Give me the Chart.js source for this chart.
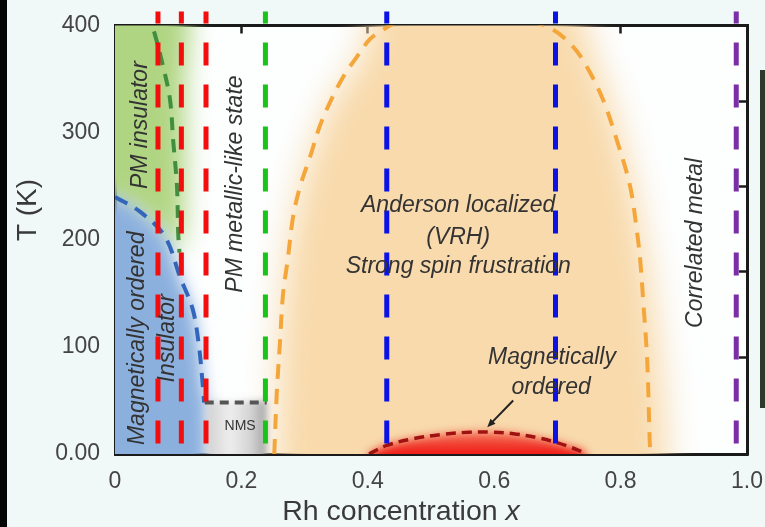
<!DOCTYPE html>
<html>
<head>
<meta charset="utf-8">
<script src="https://cdn.jsdelivr.net/npm/chart.js@4/dist/chart.umd.min.js"></script>
<style>
  html, body { margin: 0; padding: 0; background: #f1f8f8; }
  #wrap { width: 765px; height: 527px; }
</style>
</head>
<body>
<div id="wrap"><canvas id="phase" width="765" height="527"></canvas></div>
<script>
// ---- axes ----
const xTickLabels = ['0', '0.2', '0.4', '0.6', '0.8', '1.0'];
const yTickLabels = ['0.00', '100', '200', '300', '400'];
const rightAxisTicks = [90, 170, 250, 329];

// ---- measured compositions (dashed verticals), Rh concentration x ----
const redSamplesX = [0.068, 0.105, 0.144];
const greenSamplesX = [0.238];
const blueSamplesX = [0.430, 0.697];
const purpleSamplesX = [0.983];
const sampleLineTopT = 413;

// ---- phase boundaries, [x, T (K)] ----
const pmBoundary = [[0.05, 414], [0.06, 398], [0.076, 362], [0.087, 331], [0.092, 293], [0.098, 250], [0.1, 206], [0.102, 188]];
const orderBoundary = [[0, 240], [0.04, 226], [0.079, 203], [0.103, 165], [0.123, 135], [0.133, 100], [0.138, 70], [0.141, 48]];
const nmsBoundary = [[0.142, 48], [0.24, 48]];
const andersonBoundary = [[0.252, 0], [0.256, 57], [0.261, 104], [0.266, 150], [0.273, 180], [0.282, 222], [0.293, 250],
  [0.309, 278], [0.324, 306], [0.34, 328], [0.361, 352], [0.383, 371], [0.403, 387], [0.419, 394], [0.45, 404], [0.55, 412],
  [0.65, 405], [0.693, 396], [0.725, 380], [0.747, 361], [0.772, 331], [0.794, 293], [0.815, 250], [0.826, 207],
  [0.831, 181], [0.836, 141], [0.842, 88], [0.846, 13], [0.847, 0]];
const orderedDome = [[0.402, 0], [0.43, 8], [0.47, 14], [0.52, 18.5], [0.56, 20.3], [0.593, 20.5], [0.63, 19], [0.67, 15],
  [0.697, 11], [0.72, 6.5], [0.742, 1.5]];

// ---- shaded phase regions, [x, T (K)] ----
const pmInsulatorArea = [[-0.05, 236], [-0.05, 450], [0.105, 450], [0.11, 330], [0.11, 240], [0.1, 190], [0.06, 215], [0, 236]];
const orderedInsulatorArea = [[-0.05, -40], [-0.05, 244], [0, 240], [0.04, 226], [0.079, 203], [0.103, 165], [0.123, 135],
  [0.133, 100], [0.14, 60], [0.145, 48], [0.145, -40]];
const nmsArea = [[0.144, -40], [0.144, 50], [0.24, 50], [0.24, -40]];
const andersonArea = [[0.255, -40], [0.26, 100], [0.274, 190], [0.3, 262], [0.34, 326], [0.39, 372], [0.43, 440], [0.70, 440],
  [0.765, 360], [0.81, 275], [0.845, 170], [0.865, 70], [0.875, -40]];
const orderedArea = orderedDome.concat([[0.75, -40], [0.395, -40]]);

// ---- text ----
const phaseLabels = [
  { text: 'PM insulator', x: 0.040, t: 307, vertical: true },
  { text: 'Magnetically ordered', x: 0.035, t: 108, vertical: true },
  { text: 'Insulator', x: 0.084, t: 108, vertical: true },
  { text: 'PM metallic-like state', x: 0.1915, t: 252, vertical: true },
  { text: 'Correlated metal', x: 0.918, t: 197, vertical: true },
  { text: 'Anderson localized', x: 0.543, t: 232 },
  { text: '(VRH)', x: 0.543, t: 202 },
  { text: 'Strong spin frustration', x: 0.543, t: 175 },
  { text: 'Magnetically', x: 0.6915, t: 90 },
  { text: 'ordered', x: 0.69, t: 62 }
];
const nmsLabel = { text: 'NMS', x: 0.198, t: 26 };
const orderedArrow = [[0.63, 50], [0.589, 25]];

const FONT = '"Liberation Sans", Arial, sans-serif';
const pts = arr => arr.map(([x, y]) => ({ x, y }));

// Blur selected filled regions: runs before the filler plugin paints them.
const softFill = {
  id: 'softFill',
  beforeDatasetDraw(chart, args) {
    const ds = chart.data.datasets[args.index];
    if (ds.softness) { chart.ctx.save(); chart.ctx.filter = 'blur(' + ds.softness + 'px)'; }
  },
  afterDatasetDraw(chart, args) {
    const ds = chart.data.datasets[args.index];
    if (ds.softness) chart.ctx.restore();
  }
};
const filler = Chart.registry.getPlugin('filler');
Chart.unregister(filler);
Chart.register(softFill, filler);

function region(data, color, softness) {
  return { data: pts(data), fill: 'shape', backgroundColor: color, borderWidth: 0, pointRadius: 0, tension: 0.3, softness };
}
function dashed(data, color, width, dash) {
  return { data: pts(data), fill: false, borderColor: color, borderWidth: width, borderDash: dash, pointRadius: 0, tension: 0.35 };
}
function sampleLines(xs, color) {
  return xs.map(x => ({
    data: [{ x, y: sampleLineTopT }, { x, y: 0 }], fill: false, borderColor: color, borderWidth: 5,
    borderDash: [23, 19], borderDashOffset: 11, pointRadius: 0, clip: false, borderCapStyle: 'butt'
  }));
}

function nmsGradient(ctx) {
  const { chart } = ctx;
  if (!chart.chartArea) return '#dddddd';
  const x = chart.scales.x;
  const g = chart.ctx.createLinearGradient(x.getPixelForValue(0.144), 0, x.getPixelForValue(0.24), 0);
  g.addColorStop(0, '#d0d0d0');
  g.addColorStop(0.4, '#eeeeee');
  g.addColorStop(0.75, '#d2d2d2');
  g.addColorStop(1, '#a4a4a4');
  return g;
}
function domeGradient(ctx) {
  const { chart } = ctx;
  if (!chart.chartArea) return '#ee2a22';
  const y = chart.scales.y;
  const g = chart.ctx.createLinearGradient(0, y.getPixelForValue(0), 0, y.getPixelForValue(22));
  g.addColorStop(0, 'rgb(238,24,20)');
  g.addColorStop(1, 'rgba(242,90,70,0.8)');
  return g;
}

// bottom layer first
const layers = [
  region(andersonArea, 'rgb(248,218,172)', 16),
  region(pmInsulatorArea, 'rgb(176,213,130)', 12),
  region(orderedInsulatorArea, 'rgb(140,176,222)', 8),
  Object.assign(region(nmsArea, nmsGradient, 3), { tension: 0 }),
  region(orderedArea, domeGradient, 5),
  dashed(andersonBoundary, '#f5a63a', 4, [15, 10]),
  dashed(pmBoundary, '#3f8f3f', 4, [13, 9]),
  dashed(orderBoundary, '#3366bb', 4, [14, 9]),
  Object.assign(dashed(nmsBoundary, '#555555', 4, [9, 6]), { tension: 0 }),
  dashed(orderedDome, '#a01212', 3.5, [10, 6]),
  ...sampleLines(redSamplesX, '#f40d0d'),
  ...sampleLines(greenSamplesX, '#17c417'),
  ...sampleLines(blueSamplesX, '#0b12e6'),
  ...sampleLines(purpleSamplesX, '#7a2fa6')
];
layers.forEach((d, i) => { d.order = layers.length - i; d.xAxisID = 'x'; d.yAxisID = 'y'; });

const pageDecor = {
  id: 'pageDecor',
  beforeDraw(chart) {
    const { ctx, chartArea: a } = chart;
    ctx.save();
    ctx.fillStyle = '#f1f8f8';
    ctx.fillRect(0, 0, chart.width, chart.height);
    ctx.fillStyle = '#050505';
    ctx.fillRect(0, 0, 7, chart.height);
    ctx.fillStyle = '#2d3a2c';
    ctx.fillRect(760, 70, 5, 338);
    ctx.fillStyle = '#fdfefe';
    ctx.fillRect(a.left, a.top, a.right - a.left, a.bottom - a.top);
    ctx.restore();
  }
};

const phaseText = {
  id: 'phaseText',
  afterDatasetsDraw(chart) {
    const { ctx, scales: { x, y } } = chart;
    ctx.save();
    ctx.fillStyle = '#333333';
    ctx.textAlign = 'center';
    ctx.textBaseline = 'middle';
    ctx.font = 'italic 23px ' + FONT;
    phaseLabels.forEach(l => {
      const px = x.getPixelForValue(l.x), py = y.getPixelForValue(l.t);
      ctx.save();
      ctx.translate(px, py);
      if (l.vertical) ctx.rotate(-Math.PI / 2);
      ctx.fillText(l.text, 0, 0);
      ctx.restore();
    });
    ctx.font = '14px ' + FONT;
    ctx.fillText(nmsLabel.text, x.getPixelForValue(nmsLabel.x), y.getPixelForValue(nmsLabel.t));

    // arrow pointing at the ordered dome
    const [p0, p1] = orderedArrow;
    const x0 = x.getPixelForValue(p0[0]), y0 = y.getPixelForValue(p0[1]);
    const x1 = x.getPixelForValue(p1[0]), y1 = y.getPixelForValue(p1[1]);
    const ang = Math.atan2(y1 - y0, x1 - x0);
    ctx.strokeStyle = '#222222';
    ctx.fillStyle = '#222222';
    ctx.lineWidth = 2;
    ctx.beginPath();
    ctx.moveTo(x0, y0);
    ctx.lineTo(x1 - 6 * Math.cos(ang), y1 - 6 * Math.sin(ang));
    ctx.stroke();
    ctx.beginPath();
    ctx.moveTo(x1, y1);
    ctx.lineTo(x1 - 9 * Math.cos(ang - 0.4), y1 - 9 * Math.sin(ang - 0.4));
    ctx.lineTo(x1 - 9 * Math.cos(ang + 0.4), y1 - 9 * Math.sin(ang + 0.4));
    ctx.closePath();
    ctx.fill();
    ctx.restore();
  },
  afterDraw(chart) {
    const { ctx } = chart;
    ctx.save();
    ctx.fillStyle = '#3a3a3a';
    ctx.textBaseline = 'middle';
    // y title
    ctx.font = '28px ' + FONT;
    ctx.textAlign = 'center';
    ctx.save();
    ctx.translate(28, 210);
    ctx.rotate(-Math.PI / 2);
    ctx.fillText('T (K)', 0, 0);
    ctx.restore();
    // x title with italic variable
    const a = 'Rh concentration ', b = 'x';
    ctx.font = '28.5px ' + FONT;
    const wa = ctx.measureText(a).width;
    ctx.font = 'italic 28.5px ' + FONT;
    const wb = ctx.measureText(b).width;
    const sx = 401 - (wa + wb) / 2;
    ctx.textAlign = 'left';
    ctx.font = '28.5px ' + FONT;
    ctx.fillText(a, sx, 512);
    ctx.font = 'italic 28.5px ' + FONT;
    ctx.fillText(b, sx + wa, 512);
    ctx.restore();
  }
};

const frameGrid = { display: true, drawOnChartArea: false, drawTicks: true, tickLength: -8, tickWidth: 2.5, tickColor: '#1a1a1a' };
const frameBorder = { display: true, color: '#1a1a1a', width: 3 };
const noEdgePadding = s => { s.paddingLeft = 0; s.paddingRight = 0; s.paddingTop = 0; s.paddingBottom = 0; };

new Chart(document.getElementById('phase'), {
  type: 'line',
  data: { datasets: layers },
  plugins: [pageDecor, phaseText],
  options: {
    responsive: false,
    animation: false,
    events: [],
    layout: { padding: { top: 25.5, right: 18, bottom: 0, left: 0 } },
    plugins: { legend: { display: false }, tooltip: { enabled: false }, title: { display: false } },
    scales: {
      x: {
        type: 'linear', position: 'bottom', min: 0, max: 1,
        grid: frameGrid, border: frameBorder,
        ticks: { stepSize: 0.2, padding: 22, color: '#444444', font: { size: 23, family: FONT },
          maxRotation: 0, autoSkip: false, callback: (v, i) => xTickLabels[i] },
        afterFit: s => { s.height = 73; noEdgePadding(s); }
      },
      y: {
        type: 'linear', position: 'left', min: 0, max: 400,
        grid: frameGrid, border: frameBorder,
        ticks: { stepSize: 100, padding: 23, color: '#444444', font: { size: 23, family: FONT },
          callback: (v, i) => yTickLabels[i] },
        afterFit: s => { s.width = 115; noEdgePadding(s); }
      },
      x2: {
        type: 'linear', position: 'top', min: 0, max: 1,
        grid: frameGrid, border: frameBorder,
        ticks: { stepSize: 0.2, display: false },
        afterFit: s => { s.height = 0; noEdgePadding(s); }
      },
      y2: {
        type: 'linear', position: 'right', min: 0, max: 400,
        grid: frameGrid, border: frameBorder,
        ticks: { display: false },
        afterBuildTicks: s => { s.ticks = rightAxisTicks.map(v => ({ value: v })); },
        afterFit: s => { s.width = 0; noEdgePadding(s); }
      }
    }
  }
});
</script>
</body>
</html>
